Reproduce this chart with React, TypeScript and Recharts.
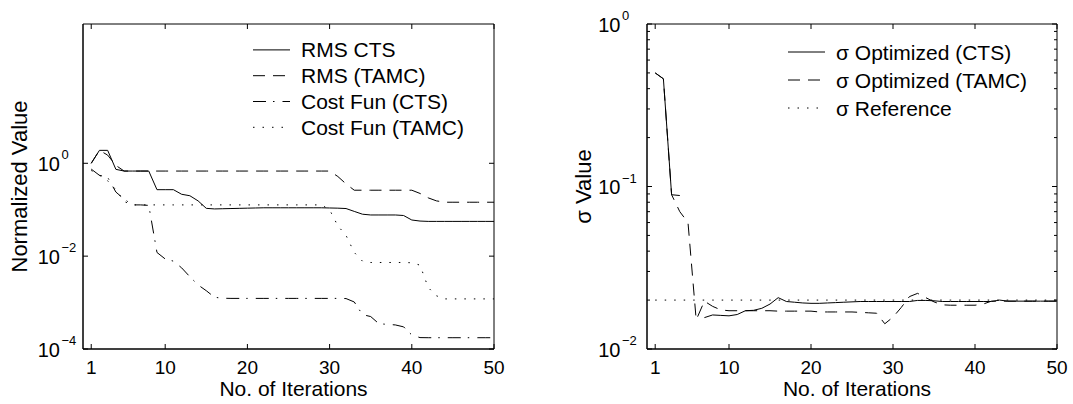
import React from 'react';
import { LineChart, Line, XAxis, YAxis, ReferenceArea, Legend, Label } from 'recharts';

const FONT = '"Liberation Sans", Arial, Helvetica, sans-serif';

// ---------- data ----------
const iterations = [
  1, 2, 3, 4, 5, 6, 7, 8, 9, 10,
  11, 12, 13, 14, 15, 16, 17, 18, 19, 20,
  21, 22, 23, 24, 25, 26, 27, 28, 29, 30,
  31, 32, 33, 34, 35, 36, 37, 38, 39, 40,
  41, 42, 43, 44, 45, 46, 47, 48, 49, 50,
];
const xTicks = [1, 10, 20, 30, 40, 50];

const leftYTicks = [1e-4, 1e-2, 1];
const leftYMajor = [1e-4, 1e-2, 1];
const rightYTicks = [
  0.01, 0.02, 0.03, 0.04, 0.05, 0.06, 0.07, 0.08, 0.09,
  0.1, 0.2, 0.3, 0.4, 0.5, 0.6, 0.7, 0.8, 0.9, 1,
];
const rightYMajor = [0.01, 0.1, 1];

const rmsCts = [
  1.0, 1.9, 1.9, 0.74, 0.68, 0.68, 0.68, 0.68, 0.27, 0.27,
  0.27, 0.215, 0.2, 0.155, 0.107, 0.104, 0.105, 0.106, 0.107, 0.108,
  0.109, 0.11, 0.11, 0.11, 0.11, 0.11, 0.11, 0.11, 0.11, 0.109,
  0.108, 0.106, 0.092, 0.08, 0.077, 0.077, 0.077, 0.077, 0.075, 0.06,
  0.057, 0.056, 0.056, 0.056, 0.056, 0.056, 0.056, 0.056, 0.056, 0.056,
];
const rmsTamc = [
  1.0, 1.9, 1.5, 0.9, 0.68, 0.68, 0.68, 0.68, 0.68, 0.68,
  0.68, 0.68, 0.68, 0.68, 0.68, 0.68, 0.68, 0.68, 0.68, 0.68,
  0.68, 0.68, 0.68, 0.68, 0.68, 0.68, 0.68, 0.68, 0.68, 0.68,
  0.52, 0.36, 0.263, 0.263, 0.263, 0.263, 0.263, 0.263, 0.263, 0.263,
  0.224, 0.18, 0.155, 0.145, 0.145, 0.145, 0.145, 0.145, 0.145, 0.145,
];
const costCts = [
  0.75, 0.55, 0.5, 0.24, 0.17, 0.127, 0.127, 0.124, 0.012, 0.0087,
  0.0078, 0.0056, 0.0036, 0.0024, 0.0018, 0.0013, 0.00124, 0.00123, 0.00123, 0.00123,
  0.00123, 0.00123, 0.00123, 0.00123, 0.00123, 0.00123, 0.00123, 0.00123, 0.00123, 0.00123,
  0.00123, 0.00122, 0.00103, 0.00055, 0.0005, 0.00035, 0.00034, 0.00033, 0.0003, 0.0002,
  0.000176, 0.000175, 0.000175, 0.000175, 0.000175, 0.000175, 0.000175, 0.000175, 0.000175, 0.000175,
];
const costTamc = [
  0.7, 0.55, 0.42, 0.27, 0.15, 0.127, 0.127, 0.127, 0.127, 0.127,
  0.127, 0.127, 0.127, 0.127, 0.127, 0.127, 0.127, 0.127, 0.127, 0.127,
  0.127, 0.127, 0.127, 0.127, 0.127, 0.127, 0.127, 0.127, 0.127, 0.1,
  0.045, 0.028, 0.012, 0.0078, 0.0073, 0.0073, 0.0073, 0.0073, 0.0073, 0.0072,
  0.0064, 0.0021, 0.0014, 0.0012, 0.0012, 0.0012, 0.0012, 0.0012, 0.0012, 0.0012,
];

const sigmaCts = [
  0.5, 0.46, 0.089, 0.088, null, null, 0.0156, 0.0162, 0.0161, 0.016,
  0.0163, 0.0172, 0.0173, 0.0178, 0.0189, 0.0207, 0.0196, 0.0194, 0.0192, 0.0191,
  0.0191, 0.0192, 0.0193, 0.0194, 0.0195, 0.0196, 0.0196, 0.0196, 0.0196, 0.0196,
  0.0196, 0.0196, 0.0199, 0.0199, 0.0198, 0.0196, 0.0196, 0.0196, 0.0196, 0.0196,
  0.0196, 0.0196, 0.02, 0.0197, 0.0197, 0.0197, 0.0197, 0.0197, 0.0197, 0.0197,
];
const sigmaTamc = [
  0.5, 0.46, 0.089, 0.07, 0.06, 0.0151, 0.0197, 0.0183, 0.0174, 0.0172,
  0.0172, 0.0172, 0.0172, 0.0172, 0.0172, 0.0171, 0.0171, 0.0171, 0.0171, 0.0171,
  0.0169, 0.0169, 0.0169, 0.0169, 0.0169, 0.0168, 0.0167, 0.0166, 0.0143, 0.0157,
  0.018, 0.021, 0.022, 0.0207, 0.0195, 0.0187, 0.0186, 0.0186, 0.0186, 0.0186,
  0.0189, 0.0197, 0.0197, 0.0197, 0.0197, 0.0197, 0.0197, 0.0197, 0.0197, 0.0197,
];
const sigmaRef = [
  0.02, 0.02, 0.02, 0.02, 0.02, 0.02, 0.02, 0.02, 0.02, 0.02,
  0.02, 0.02, 0.02, 0.02, 0.02, 0.02, 0.02, 0.02, 0.02, 0.02,
  0.02, 0.02, 0.02, 0.02, 0.02, 0.02, 0.02, 0.02, 0.02, 0.02,
  0.02, 0.02, 0.02, 0.02, 0.02, 0.02, 0.02, 0.02, 0.02, 0.02,
  0.02, 0.02, 0.02, 0.02, 0.02, 0.02, 0.02, 0.02, 0.02, 0.02,
];

const leftNames = ['RMS CTS', 'RMS (TAMC)', 'Cost Fun (CTS)', 'Cost Fun (TAMC)'];
const rightNames = ['σ Optimized (CTS)', 'σ Optimized (TAMC)', 'σ Reference'];
const xLabel = 'No. of Iterations';
const leftYLabel = 'Normalized Value';
const rightYLabel = 'σ Value';

// ---------- styles ----------
const SOLID = undefined;
const DASHED = '12 8';
const DASHDOT = '13 7 1.5 8';
const DOTTED = '1.5 8';

const leftRows = iterations.map((it, i) => ({
  it,
  rmsCts: rmsCts[i],
  rmsTamc: rmsTamc[i],
  costCts: costCts[i],
  costTamc: costTamc[i],
}));
const rightRows = iterations.map((it, i) => ({
  it,
  sigmaCts: sigmaCts[i],
  sigmaTamc: sigmaTamc[i],
  sigmaRef: sigmaRef[i],
}));

const makeXTick = (plotTop: number) => (props: any) => {
  const { x, y, payload } = props;
  return (
    <g>
      <line x1={x} y1={y} x2={x} y2={y - 5} stroke="#000" strokeWidth={1} />
      <line x1={x} y1={plotTop} x2={x} y2={plotTop + 5} stroke="#000" strokeWidth={1} />
      <text x={x} y={y + 25} textAnchor="middle" fontSize={19} fontFamily={FONT} fill="#000">
        {payload.value}
      </text>
    </g>
  );
};

const makeYTick = (plotWidth: number, gap: number, majors: number[]) => (props: any) => {
  const { x, y, payload } = props;
  const v = payload.value;
  const isMajor = majors.some((m) => Math.abs(m - v) / m < 1e-6);
  const len = isMajor ? 5 : 3;
  const exp = Math.round(Math.log10(v));
  const expStr = exp < 0 ? '\u2212' + Math.abs(exp) : String(exp);
  return (
    <g>
      <line x1={x} y1={y} x2={x + len} y2={y} stroke="#000" strokeWidth={1} />
      <line x1={x + plotWidth} y1={y} x2={x + plotWidth - len} y2={y} stroke="#000" strokeWidth={1} />
      {isMajor && (
        <g>
          <text x={x - gap} y={y + 7.5} textAnchor="end" fontSize={20} fontFamily={FONT} fill="#000">
            10
          </text>
          <text x={x - gap + 1.5} y={y - 4} textAnchor="start" fontSize={13} fontFamily={FONT} fill="#000">
            {expStr}
          </text>
        </g>
      )}
    </g>
  );
};

const xLabelContent = (props: any) => {
  const vb = props.viewBox;
  return (
    <text x={vb.x + vb.width / 2 + 5} y={vb.y + 47} textAnchor="middle" fontSize={21} fontFamily={FONT} fill="#000">
      {xLabel}
    </text>
  );
};

const makeYLabelContent = (text: string, dx: number) => (props: any) => {
  const vb = props.viewBox;
  const cx = vb.x + dx;
  const cy = vb.y + vb.height / 2;
  return (
    <text
      x={cx}
      y={cy}
      transform={`rotate(-90, ${cx}, ${cy})`}
      textAnchor="middle"
      dominantBaseline="central"
      fontSize={22}
      fontFamily={FONT}
      fill="#000"
    >
      {text}
    </text>
  );
};

const LegendBox = ({ names, dashes, rowGap }: { names: string[]; dashes: (string | undefined)[]; rowGap: number }) => (
  <svg width={250} height={names.length * rowGap} style={{ display: 'block' }}>
    {names.map((n, i) => {
      const cy = rowGap * (i + 0.5);
      return (
        <g key={n}>
          <line x1={0} y1={cy} x2={37} y2={cy} stroke="#000" strokeWidth={1} strokeDasharray={dashes[i]} />
          <text x={48} y={cy} dominantBaseline="central" fontSize={21} fontFamily={FONT} fill="#000">
            {n}
          </text>
        </g>
      );
    })}
  </svg>
);

const PLOT_TOP = 24;
const LEFT_PLOT_W = 411;
const RIGHT_PLOT_W = 410;

export default function App() {
  return (
    <div style={{ position: 'absolute', left: 0, top: 0, width: 1073, height: 404, background: '#fff', fontFamily: FONT }}>
      <div style={{ position: 'absolute', left: 0, top: 0 }}>
        <LineChart width={540} height={404} data={leftRows} margin={{ top: PLOT_TOP, right: 46, bottom: 0, left: 0 }}>
          <XAxis
            dataKey="it"
            type="number"
            domain={[0, 50]}
            ticks={xTicks}
            interval={0}
            allowDataOverflow
            height={55}
            tickSize={0}
            tickMargin={0}
            tick={makeXTick(PLOT_TOP)}
            axisLine={{ stroke: '#000', strokeWidth: 1 }}
            tickLine={false}
          >
            <Label content={xLabelContent} />
          </XAxis>
          <YAxis
            type="number"
            scale="log"
            domain={[1e-4, 1e3]}
            ticks={leftYTicks}
            interval={0}
            allowDataOverflow
            width={83}
            tickSize={0}
            tickMargin={0}
            tick={makeYTick(LEFT_PLOT_W, 23, leftYMajor)}
            axisLine={{ stroke: '#000', strokeWidth: 1 }}
            tickLine={false}
          >
            <Label content={makeYLabelContent(leftYLabel, 19)} />
          </YAxis>
          <ReferenceArea x1={0} x2={50} y1={1e-4} y2={1e3} fill="none" fillOpacity={0} stroke="#000" strokeWidth={1} ifOverflow="visible" />
          <Line dataKey="rmsCts" name={leftNames[0]} type="linear" stroke="#000" strokeWidth={1} strokeDasharray={SOLID} dot={false} isAnimationActive={false} />
          <Line dataKey="rmsTamc" name={leftNames[1]} type="linear" stroke="#000" strokeWidth={1} strokeDasharray={DASHED} dot={false} isAnimationActive={false} />
          <Line dataKey="costCts" name={leftNames[2]} type="linear" stroke="#000" strokeWidth={1} strokeDasharray={DASHDOT} dot={false} isAnimationActive={false} />
          <Line dataKey="costTamc" name={leftNames[3]} type="linear" stroke="#000" strokeWidth={1} strokeDasharray={DOTTED} dot={false} isAnimationActive={false} />
          <Legend
            layout="vertical"
            verticalAlign="middle"
            align="center"
            wrapperStyle={{ left: 253, top: 37, width: 'auto', height: 'auto' }}
            content={() => <LegendBox names={leftNames} dashes={[SOLID, DASHED, DASHDOT, DOTTED]} rowGap={25.8} />}
          />
        </LineChart>
      </div>
      <div style={{ position: 'absolute', left: 540, top: 0 }}>
        <LineChart width={533} height={404} data={rightRows} margin={{ top: PLOT_TOP, right: 16, bottom: 0, left: 0 }}>
          <XAxis
            dataKey="it"
            type="number"
            domain={[0, 50]}
            ticks={xTicks}
            interval={0}
            allowDataOverflow
            height={55}
            tickSize={0}
            tickMargin={0}
            tick={makeXTick(PLOT_TOP)}
            axisLine={{ stroke: '#000', strokeWidth: 1 }}
            tickLine={false}
          >
            <Label content={xLabelContent} />
          </XAxis>
          <YAxis
            type="number"
            scale="log"
            domain={[0.01, 1]}
            ticks={rightYTicks}
            interval={0}
            allowDataOverflow
            width={107}
            tickSize={0}
            tickMargin={0}
            tick={makeYTick(RIGHT_PLOT_W, 26.5, rightYMajor)}
            axisLine={{ stroke: '#000', strokeWidth: 1 }}
            tickLine={false}
          >
            <Label content={makeYLabelContent(rightYLabel, 43.5)} />
          </YAxis>
          <ReferenceArea x1={0} x2={50} y1={0.01} y2={1} fill="none" fillOpacity={0} stroke="#000" strokeWidth={1} ifOverflow="visible" />
          <Line dataKey="sigmaCts" name={rightNames[0]} type="linear" stroke="#000" strokeWidth={1} strokeDasharray={SOLID} dot={false} isAnimationActive={false} />
          <Line dataKey="sigmaTamc" name={rightNames[1]} type="linear" stroke="#000" strokeWidth={1} strokeDasharray={DASHED} dot={false} isAnimationActive={false} />
          <Line dataKey="sigmaRef" name={rightNames[2]} type="linear" stroke="#000" strokeWidth={1} strokeDasharray={DOTTED} dot={false} isAnimationActive={false} />
          <Legend
            layout="vertical"
            verticalAlign="middle"
            align="center"
            wrapperStyle={{ left: 248, top: 38, width: 'auto', height: 'auto' }}
            content={() => <LegendBox names={rightNames} dashes={[SOLID, DASHED, DOTTED]} rowGap={28} />}
          />
        </LineChart>
      </div>
    </div>
  );
}
